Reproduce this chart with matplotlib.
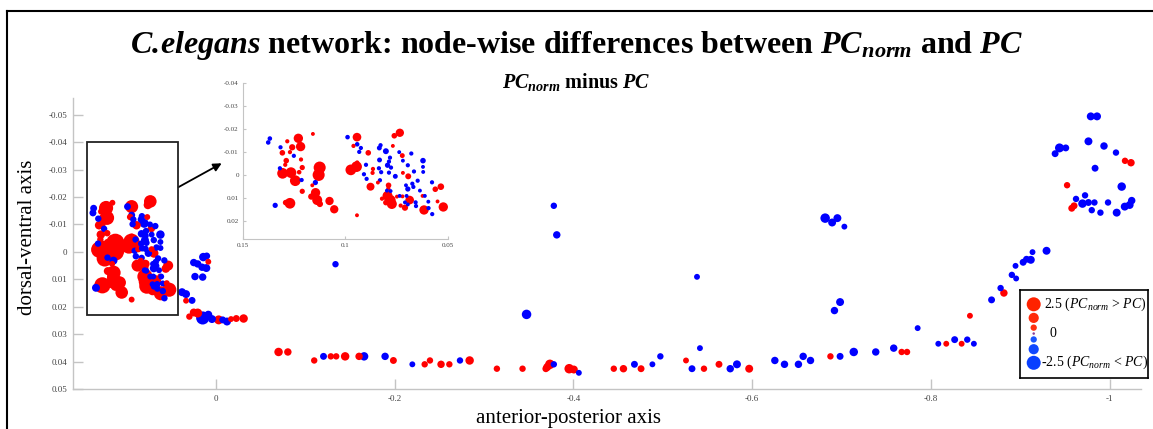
import numpy as np
import matplotlib.pyplot as plt
from matplotlib.patches import Rectangle
from matplotlib.lines import Line2D

plt.rcParams['font.family'] = ['Liberation Serif', 'DejaVu Serif']
plt.rcParams['mathtext.fontset'] = 'custom'
plt.rcParams['mathtext.rm'] = 'Liberation Serif'
plt.rcParams['mathtext.it'] = 'Liberation Serif:italic'
plt.rcParams['mathtext.bf'] = 'Liberation Serif:bold'
plt.rcParams['mathtext.bfit'] = 'Liberation Serif:bold:italic'
plt.rcParams['axes.unicode_minus'] = False

# head ganglia, left half of the boxed cluster
head_l_x = [0.1377, 0.1369, 0.1317, 0.1284, 0.1260, 0.1230, 0.1219, 0.1271, 0.1252, 0.1308,
            0.1289, 0.1294, 0.1217, 0.1211, 0.1320, 0.1307, 0.1266, 0.1245, 0.1214, 0.1226,
            0.1162, 0.1147, 0.1126, 0.1131, 0.1159, 0.1211, 0.1146, 0.1167, 0.1138, 0.1125,
            0.1271, 0.1292, 0.1343, 0.1078, 0.1055, 0.0944]
head_l_y = [-0.0142, -0.0159, -0.0121, -0.0147, -0.0121, -0.0160, -0.0124, -0.0100, -0.0084, -0.0097,
            -0.0063, -0.0045, -0.0068, -0.0033, -0.0030, -0.0008, -0.0011, 0.0024, 0.0021, -0.0013,
            0.0044, 0.0032, -0.0033, -0.0001, -0.0179, 0.0070, 0.0076, 0.0093, 0.0108, 0.0125,
            0.0122, 0.0119, 0.0131, 0.0112, 0.0148, 0.0174]
head_l_d = [-0.8, -0.8, -0.7, 0.7, 1.3, 2.2, 2.2, 0.7, -0.7, 1.1,
            1.1, 0.7, 0.7, 1.0, -0.7, 2.6, 2.6, 2.6, -0.7, 0.8,
            0.6, -1.0, 3.0, 3.0, 0.6, 1.0, 2.2, 1.3, 2.4, 1.3,
            2.6, 1.1, -1.0, 1.9, 1.9, 0.6]

# head ganglia, right half of the boxed cluster
head_r_x = [0.0990, 0.0944, 0.0961, 0.0943, 0.0925, 0.0933, 0.0889, 0.0974, 0.0946, 0.0943,
            0.0900, 0.0910, 0.0897, 0.0866, 0.0868, 0.0878, 0.0842, 0.0832, 0.0834, 0.0837,
            0.0826, 0.0835, 0.0829, 0.0803, 0.0783, 0.0788, 0.0795, 0.0778, 0.0788, 0.0757,
            0.0769, 0.0762, 0.0735, 0.0738, 0.0723, 0.0720, 0.0696, 0.0720, 0.0694, 0.0679,
            0.0666, 0.0648, 0.0674, 0.0669, 0.0705, 0.0696, 0.0637, 0.0622, 0.0622, 0.0621,
            0.0790, 0.0791, 0.0798, 0.0795, 0.0780, 0.0774, 0.0722, 0.0749, 0.0736, 0.0702,
            0.0687, 0.0710, 0.0696, 0.0658, 0.0710, 0.0731, 0.0803, 0.0822, 0.0656, 0.0624,
            0.0613, 0.0617, 0.0595, 0.0596, 0.0578, 0.0562, 0.0535, 0.0551, 0.0523, 0.0577,
            0.0780]
head_r_y = [-0.0165, -0.0165, -0.0127, -0.0134, -0.0118, -0.0101, -0.0097, -0.0023, -0.0037, -0.0055,
            -0.0045, -0.0004, 0.0016, -0.0027, -0.0010, 0.0050, 0.0032, 0.0022, -0.0066, -0.0030,
            -0.0013, -0.0118, -0.0130, -0.0104, -0.0076, -0.0059, -0.0043, -0.0033, -0.0011, 0.0005,
            -0.0127, -0.0171, -0.0184, -0.0100, -0.0085, -0.0063, -0.0043, -0.0010, 0.0005, -0.0094,
            -0.0016, 0.0024, 0.0037, 0.0051, 0.0044, 0.0060, 0.0067, -0.0063, -0.0036, -0.0014,
            0.0044, 0.0058, 0.0067, 0.0090, 0.0108, 0.0125, 0.0092, 0.0093, 0.0090, 0.0090,
            0.0108, 0.0118, 0.0127, 0.0118, 0.0141, 0.0132, 0.0119, 0.0102, 0.0134, 0.0090,
            0.0090, 0.0151, 0.0143, 0.0115, 0.0031, 0.0061, 0.0050, 0.0114, 0.0138, 0.0169,
            0.0069]
head_r_d = [-0.8, 2.0, 0.7, -0.8, -0.7, -0.7, 1.1, 2.6, 2.6, 0.7,
            -0.7, -0.7, -0.7, 0.7, 0.7, 1.8, 0.6, -0.7, -0.9, -0.7,
            -0.7, -0.9, -0.7, -1.2, -0.7, -0.7, -1.0, -0.7, -0.7, -0.9,
            0.6, 1.1, 1.9, -0.6, 0.9, -0.6, -0.7, 0.6, 1.2, -0.7,
            -0.7, -0.7, -0.7, -0.7, -0.6, -1.0, -0.6, -1.1, -0.6, -0.6,
            1.1, 0.7, -0.6, 2.4, 2.4, 2.4, 0.6, 0.6, -0.6, -0.6,
            2.0, -0.6, -0.6, -0.7, 1.3, 0.7, 1.1, 0.7, -0.7, 0.6,
            -0.6, 2.2, -0.7, -0.6, -0.7, 1.1, 1.4, 0.6, 2.2, -0.7,
            -0.6]

# neurons just behind the head
ring_x = [0.0249, 0.0205, 0.0142, 0.0104, 0.0086, 0.0156, 0.0108, 0.0235, 0.0149, 0.0380,
          0.0335, 0.0335, 0.0268, 0.0298, 0.0249, 0.0205, 0.0149, 0.0086, 0.0045, -0.0030,
          -0.0075, -0.0123, -0.0168, -0.0227, -0.0309]
ring_y = [0.0039, 0.0044, 0.0019, 0.0015, 0.0036, 0.0056, 0.0059, 0.0090, 0.0092, 0.0147,
          0.0154, 0.0178, 0.0177, 0.0236, 0.0221, 0.0223, 0.0241, 0.0229, 0.0245, 0.0248,
          0.0248, 0.0254, 0.0245, 0.0243, 0.0243]
ring_d = [-0.9, -0.9, -1.1, -0.8, 0.6, -0.9, -1.0, -0.9, -0.9, -1.0,
          -1.0, 0.6, -0.8, 0.7, 1.0, 1.2, -2.0, -1.0, -1.0, 1.2,
          -0.8, -1.0, 0.6, 0.8, 1.1]

# ventral cord
cord_x = [-0.0700, -0.0804, -0.1099, -0.1203, -0.1285, -0.1345, -0.1445, -0.1601, -0.1657, -0.1892,
          -0.1985, -0.2197, -0.2335, -0.2394, -0.2518, -0.2611, -0.2730, -0.2838, -0.3143, -0.3430,
          -0.3691, -0.3736, -0.3706, -0.3780, -0.3952, -0.4004, -0.4060, -0.4451, -0.4559, -0.4682,
          -0.4756, -0.4883, -0.4972, -0.5259, -0.5326, -0.5415, -0.5460, -0.5628, -0.5754, -0.5829,
          -0.5966, -0.6253, -0.6361, -0.6517, -0.6570, -0.6652, -0.6875, -0.6983, -0.7136, -0.7382,
          -0.7583, -0.7672, -0.7732, -0.7851, -0.8082, -0.8171, -0.8265, -0.8343, -0.8406, -0.8480,
          -0.8436, -0.8678, -0.8816, -0.8779, -0.8905, -0.8953, -0.8946, -0.9031, -0.9069, -0.9117,
          -0.9136, -0.9293]
cord_y = [0.0365, 0.0365, 0.0396, 0.0381, 0.0381, 0.0381, 0.0381, 0.0381, 0.0381, 0.0381,
          0.0396, 0.0410, 0.0410, 0.0396, 0.0410, 0.0410, 0.0396, 0.0396, 0.0426, 0.0426,
          0.0426, 0.0410, 0.0420, 0.0410, 0.0426, 0.0429, 0.0441, 0.0426, 0.0426, 0.0410,
          0.0426, 0.0410, 0.0381, 0.0396, 0.0426, 0.0351, 0.0426, 0.0410, 0.0426, 0.0410,
          0.0426, 0.0396, 0.0410, 0.0410, 0.0381, 0.0396, 0.0381, 0.0381, 0.0365, 0.0365,
          0.0351, 0.0365, 0.0365, 0.0278, 0.0335, 0.0335, 0.0320, 0.0335, 0.0320, 0.0335,
          0.0233, 0.0175, 0.0150, 0.0132, 0.0084, 0.0097, 0.0051, 0.0038, 0.0027, 0.0029,
          0.0001, -0.0004]
cord_d = [1.1, 0.9, 0.7, -0.8, 0.7, 0.7, 1.1, 0.9, -1.1, -0.9,
          0.8, -0.6, 0.7, 0.7, 0.9, 0.7, -0.7, 1.1, 0.7, 0.7,
          0.8, 1.3, 1.0, -0.7, 1.3, 1.0, -0.6, 0.7, 0.9, -0.8,
          0.8, -0.6, -0.7, 0.6, -0.8, -0.6, 0.7, 0.8, -0.9, -1.0,
          1.0, -0.9, -0.9, -0.9, -0.9, -0.9, 0.7, -0.8, -1.1, -0.9,
          -0.9, 0.7, 0.7, -0.6, -0.6, 0.6, -0.8, 0.6, -0.7, -0.6,
          0.6, -0.8, 0.9, -0.7, -0.7, -0.6, -0.6, -0.8, -0.8, -1.0,
          -0.6, -1.0]

# isolated body neurons
body_x = [-0.1337, -0.3780, -0.3813, -0.3475, -0.5382, -0.6816, -0.6894, -0.6953, -0.7031, -0.6920,
          -0.6983]
body_y = [0.0045, -0.0168, -0.0062, 0.0228, 0.0091, -0.0123, -0.0107, -0.0123, -0.0092, 0.0214,
          0.0183]
body_d = [-0.7, -0.7, -0.9, -1.3, -0.6, -1.3, -1.0, -1.0, -0.6, -0.9,
          -1.0]

# tail ganglia
tail_x = [-0.9788, -0.9858, -0.9762, -0.9936, -1.0070, -1.0171, -1.0238, -0.9438, -0.9508, -0.9389,
          -0.9836, -0.9523, -1.0134, -0.9724, -0.9623, -0.9695, -0.9762, -0.9829, -0.9981, -0.9601,
          -0.9575, -0.9799, -0.9896, -1.0078, -1.0168, -1.0223, -1.0246]
tail_y = [-0.0494, -0.0494, -0.0403, -0.0386, -0.0362, -0.0332, -0.0325, -0.0379, -0.0379, -0.0358,
          -0.0305, -0.0243, -0.0238, -0.0206, -0.0193, -0.0176, -0.0180, -0.0180, -0.0180, -0.0168,
          -0.0159, -0.0152, -0.0143, -0.0143, -0.0165, -0.0171, -0.0187]
tail_d = [-1.0, -1.0, -1.0, -0.9, -0.7, 0.7, 0.9, -1.2, -0.8, -0.8,
          -0.8, 0.7, -1.1, -0.7, -0.7, -1.1, -0.8, -0.7, -0.7, 0.8,
          0.8, -0.7, -0.7, -1.0, -1.0, -1.0, -0.9]

legend_values = [2.5, 1.67, 0.83, 0, -0.83, -1.67, -2.5]
legend_colors = ['#ff2200', '#ff2a0a', '#ff3010', '#8a3c9a', '#1a55ff', '#1048ff', '#0a40ff']

x = np.array(head_l_x + head_r_x + ring_x + cord_x + body_x + tail_x)
y = np.array(head_l_y + head_r_y + ring_y + cord_y + body_y + tail_y)
d = np.array(head_l_d + head_r_d + ring_d + cord_d + body_d + tail_d)


def diam(v, scale=1.0):
    return scale * (2.5 + 4.6 * np.abs(v))


def area(v, scale=1.0):
    return (diam(v, scale) * 0.72) ** 2


order = np.argsort(-np.abs(d), kind='stable')
cols = np.where(d > 0, '#ff0000', '#0000ff')

W, H = 1153, 429
fig = plt.figure(figsize=(W / 100, H / 100), dpi=100)

grey = '#c4c4c4'
fmt = lambda v, p: '%g' % v

ax = fig.add_axes([73 / W, 40 / H, 1068 / W, 291 / H])
ax.scatter(x[order], y[order], s=area(d[order], 1.12), c=cols[order], linewidths=0, zorder=3)
ax.set_xlim(0.16, -1.035)
ax.set_ylim(0.05, -0.0561)
ax.set_xticks([0, -0.2, -0.4, -0.6, -0.8, -1])
ax.set_yticks([-0.05, -0.04, -0.03, -0.02, -0.01, 0, 0.01, 0.02, 0.03, 0.04, 0.05])
ax.xaxis.set_major_formatter(plt.FuncFormatter(fmt))
ax.yaxis.set_major_formatter(plt.FuncFormatter(fmt))
for s in ['top', 'right']:
    ax.spines[s].set_visible(False)
for s in ['left', 'bottom']:
    ax.spines[s].set_color(grey)
    ax.spines[s].set_linewidth(1.0)
ax.tick_params(direction='in', length=7, width=1, color=grey,
               labelsize=6.5, labelcolor='#444444', pad=4)

ax.add_patch(Rectangle((0.144, -0.040), -0.102, 0.063, fill=False,
                       edgecolor='#222222', lw=1.3, zorder=4))
ax.annotate('', xy=(-0.0064, -0.0323), xytext=(0.042, -0.0236),
            arrowprops=dict(arrowstyle='-|>', color='black', lw=1.3,
                            mutation_scale=12, shrinkA=0, shrinkB=0))

# zoomed inset of the head
axi = fig.add_axes([243 / W, 190 / H, 205 / W, 156 / H])
axi.scatter(x[order], y[order], s=area(d[order], 0.74), c=cols[order], linewidths=0)
axi.set_xlim(0.15, 0.05)
axi.set_ylim(0.0277, -0.04)
axi.set_xticks([0.15, 0.1, 0.05])
axi.set_yticks([-0.04, -0.03, -0.02, -0.01, 0, 0.01, 0.02])
axi.xaxis.set_major_formatter(plt.FuncFormatter(fmt))
axi.yaxis.set_major_formatter(plt.FuncFormatter(fmt))
for s in ['top', 'right']:
    axi.spines[s].set_visible(False)
for s in ['left', 'bottom']:
    axi.spines[s].set_color(grey)
    axi.spines[s].set_linewidth(0.8)
axi.tick_params(direction='in', length=2.5, width=0.8, color=grey,
                labelsize=5, labelcolor='#444444', pad=3)

# legend box
lax = fig.add_axes([1020 / W, 51 / H, 128 / W, 88 / H])
lax.set_xlim(0, 128)
lax.set_ylim(88, 0)
lax.set_xticks([])
lax.set_yticks([])
for s in lax.spines.values():
    s.set_color('black')
    s.set_linewidth(1.2)
ld = diam(np.array(legend_values))
centers = [14.3]
for i in range(1, len(ld)):
    centers.append(centers[-1] + (ld[i - 1] + ld[i]) / 2 + 1.5)
lax.scatter([13.7] * len(ld), centers, s=area(np.array(legend_values)),
            c=legend_colors, linewidths=0)
lax.text(24, centers[0], r'2.5 ($PC_{norm}$ > $PC$)', fontsize=10, va='center')
lax.text(30, centers[3], '0', fontsize=10, va='center')
lax.text(21, centers[-1], r'-2.5 ($PC_{norm}$ < $PC$)', fontsize=10, va='center')

fig.text(0.5, 1 - 45 / H,
         r'$\mathbfit{C.\!elegans}$ network: node-wise differences between '
         r'$\mathbfit{PC}_{\mathbfit{norm}}$ and $\mathbfit{PC}$',
         ha='center', va='center', fontsize=23, fontweight='bold')
fig.text(0.5, 1 - 82 / H, r'$\mathbfit{PC}_{\mathbfit{norm}}$ minus $\mathbfit{PC}$',
         ha='center', va='center', fontsize=14.5, fontweight='bold')
fig.text(28 / W, 1 - 237 / H, 'dorsal-ventral axis', rotation=90,
         ha='center', va='center', fontsize=15)
fig.text(569 / W, 0.014, 'anterior-posterior axis', ha='center', va='baseline', fontsize=15)

# outer frame
fig.add_artist(Line2D([7 / W, 7 / W], [0, 1 - 11 / H], color='black', lw=1.5))
fig.add_artist(Line2D([7 / W, 1], [1 - 11 / H, 1 - 11 / H], color='black', lw=1.5))

fig.savefig('out.png', dpi=100)
